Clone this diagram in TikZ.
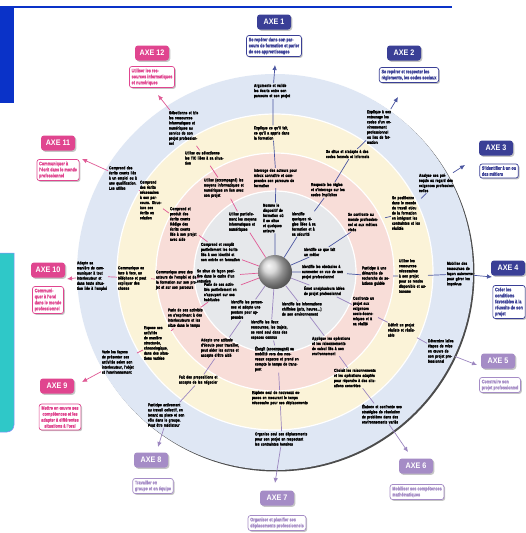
\documentclass[tikz,border=0pt]{standalone}
\usepackage{fontspec}
\setmainfont{Liberation Sans}
\newfontfamily\condfont{Liberation Sans}[FakeStretch=0.76, BoldFeatures={FakeBold=1.2}]
\newfontfamily\axefont{Liberation Sans}[FakeStretch=0.9]
\usetikzlibrary{shadows,arrows.meta}

\definecolor{axeblue}{HTML}{3A3F96}
\definecolor{axepurple}{HTML}{A58CC6}
\definecolor{axepink}{HTML}{E0458F}
\definecolor{lineblue}{HTML}{4A55A0}
\definecolor{linepurple}{HTML}{9C86C0}
\definecolor{linepink}{HTML}{E05A95}
\definecolor{ringblue}{HTML}{DFE7F4}
\definecolor{ringyellow}{HTML}{FBF3D8}
\definecolor{ringpink}{HTML}{F8DDD8}
\definecolor{ringgrey}{HTML}{E6E8EB}
\definecolor{topblue}{HTML}{0A32C8}
\definecolor{sidecyan}{HTML}{2FC8C8}

\tikzset{
  axe/.style={fill=#1, text=white, rounded corners=3pt, minimum width=34pt,
    minimum height=15pt, inner sep=1pt,
    font=\axefont\bfseries\fontsize{8}{9}\selectfont,
    drop shadow={shadow xshift=1.3pt, shadow yshift=-1.3pt, opacity=.45}},
  desc/.style={draw=#1, fill=white, text=#1, line width=.7pt, rounded corners=2.5pt,
    align=left, inner sep=2.2pt,
    font=\condfont\bfseries\fontsize{5}{6}\selectfont,
    drop shadow={shadow xshift=1.3pt, shadow yshift=-1.3pt, opacity=.45}},
  lbl/.style={text width=#1, align=left, inner sep=.8pt,
    font=\condfont\bfseries\fontsize{4.3}{5.1}\selectfont},
  axis/.style={draw=#1, line width=.7pt, -{Latex[length=5pt,width=4.5pt]}},
}

\begin{document}
\begin{tikzpicture}[x=1pt,y=-1pt]
\useasboundingbox (0,0) rectangle (525,533);
\fill[white] (0,0) rectangle (525,533);

% page decoration
\draw[topblue, line width=1.2pt] (0,7) -- (452,7);
\fill[topblue] (0,7) rectangle (14,103);
\filldraw[fill=sidecyan, draw=blue!45, line width=.5pt]
  (-10,253) -- (14,253) -- (14,425) arc[start angle=0, end angle=-90, radius=7pt] -- (-10,432) -- cycle;

% rings
\fill[black!70] (276.5,273.5) circle (198pt);
\fill[ringblue] (275,272) circle (198pt);
\foreach \r/\c in {158/ringyellow, 119/ringpink, 81/ringgrey}
  \filldraw[fill=\c, draw=white, line width=1.2pt] (275,272) circle (\r pt);
\node[circle, minimum size=34pt, inner sep=0pt, shading=ball, ball color=gray!40] (ball) at (275,272) {};

% axes labels
\node[axe=axeblue] (x1) at (274,22) {AXE 1};
\node[desc=axeblue] (d1) at (274,46) {Se repérer dans son par-\\cours de formation et parler\\de ses apprentissages};
\node[axe=axeblue] (x2) at (404,53) {AXE 2};
\node[desc=axeblue] (d2) at (409,75) {Se repérer et respecter les\\règlements, les codes sociaux};
\node[axe=axeblue] (x3) at (496,148) {AXE 3};
\node[desc=axeblue] (d3) at (499,171) {S’identifier à un ou\\des métiers};
\node[axe=axeblue] (x4) at (508,268) {AXE 4};
\node[desc=axeblue] (d4) at (509,302) {Créer les\\conditions\\favorables à la\\réussite de son\\projet};
\node[axe=axepurple] (x5) at (498,361) {AXE 5};
\node[desc=axepurple] (d5) at (500,385) {Construire son\\projet professionnel};
\node[axe=axepurple] (x6) at (416,466) {AXE 6};
\node[desc=axepurple] (d6) at (417,492) {Mobiliser ses compétences\\mathématiques};
\node[axe=axepurple] (x7) at (277,498) {AXE 7};
\node[desc=axepurple] (d7) at (277,523) {Organiser et planifier ses\\déplacements professionnels};
\node[axe=axepurple] (x8) at (151,460) {AXE 8};
\node[desc=axepurple] (d8) at (153,486) {Travailler en\\groupe et en équipe};
\node[axe=axepink] (x9) at (57,386) {AXE 9};
\node[desc=axepink, align=center] (d9) at (60,417) {Mettre en œuvre ses\\compétences et les\\adapter à différentes\\situations à l’oral};
\node[axe=axepink] (x10) at (48,270) {AXE 10};
\node[desc=axepink] (d10) at (48,300) {Communi-\\quer à l’oral\\dans le monde\\professionnel};
\node[axe=axepink] (x11) at (58,143) {AXE 11};
\node[desc=axepink] (d11) at (58,170) {Communiquer à\\l’écrit dans le monde\\professionnel};
\node[axe=axepink] (x12) at (152,53) {AXE 12};
\node[desc=axepink] (d12) at (152,77) {Utiliser les res-\\sources informatiques\\et numériques};

% axe 1
\node[lbl=24pt] (a1g) at (275,218) {Nomme le dispositif de formation où il se situe et quelques acteurs};
\node[lbl=44pt] (a1p) at (276,178) {Interroge des acteurs pour mieux connaître et comprendre son parcours de formation};
\node[lbl=38pt] (a1y) at (273,133) {Explique ce qu’il fait, ce qu’il a appris dans la formation};
\node[lbl=38pt] (a1b) at (273,91) {Argumente et valide les écarts entre son parcours et son projet};
\coordinate (t1) at (275,65);
\draw[axis=lineblue] (ball) -- (a1g) -- (a1p) -- (a1y) -- (a1b) -- (t1);

% axe 2
\node[lbl=26pt] (a2g) at (305,224) {Identifie quelques règles liées à sa formation et à sa sécurité};
\node[lbl=38pt] (a2p) at (330,190) {Respecte les règles et s’interroge sur les codes implicites};
\node[lbl=52pt] (a2y) at (352,154) {Se situe et s’adapte à des codes formels et informels};
\node[lbl=26pt] (a2b) at (380,127) {Explique à son entourage les codes d’un environnement professionnel ou lieu de formation};
\coordinate (t2) at (398,97);
\draw[axis=lineblue] (ball) -- (a2g) -- (a2p) -- (a2y) -- (a2b) -- (t2);

% axe 3
\node[lbl=34pt] (a3g) at (321,252) {Identifie ce que fait un métier};
\node[lbl=36pt] (a3p) at (366,222) {Se confronte au monde professionnel et aux métiers visés};
\node[lbl=28pt] (a3y) at (406,213) {Se positionne dans le monde du travail et/ou de la formation en intégrant les contraintes et les réalités};
\node[lbl=36pt] (a3b) at (437,183) {Analyse ses pré-requis au regard des exigences professionnelles};
\coordinate (t3) at (465,165);
\draw[axis=lineblue] (ball) -- (a3g) -- (a3p) -- (a3y) -- (a3b) -- (t3);

% axe 4
\node[lbl=44pt] (a4g) at (324,272) {Identifie les obstacles à surmonter en vue de son projet professionnel};
\node[lbl=30pt] (a4p) at (377,276) {Participe à une démarche de recherche de solutions guidée};
\node[lbl=28pt] (a4y) at (413,276) {Utilise les ressources nécessaires à son projet pour se rendre disponible et autonome};
\node[lbl=26pt] (a4b) at (460,274) {Mobilise des ressources de façon autonome pour gérer les imprévus};
\coordinate (t4) at (492,277);
\draw[axis=lineblue] (ball) -- (a4g) -- (a4p) -- (a4y) -- (a4b) -- (t4);

% axe 5
\node[lbl=42pt] (a5g) at (325,291) {Émet une/plusieurs idées de projet professionnel};
\node[lbl=24pt] (a5p) at (365,311) {Confronte un projet aux exigences socio-écono\-miques et à sa réalité};
\node[lbl=30pt] (a5y) at (403,330) {Définit un projet réaliste et réalisable};
\node[lbl=26pt] (a5b) at (441,351) {Détermine la/les étapes de mise en œuvre de son projet professionnel};
\coordinate (t5) at (477,365);
\draw[axis=linepurple] (ball) -- (a5g) -- (a5p) -- (a5y) -- (a5b) -- (t5);

% axe 6
\node[lbl=44pt] (a6g) at (304,309) {Identifie les informations chiffrées (prix, heures…) de son environnement};
\node[lbl=40pt] (a6p) at (332,346) {Applique les opérations et les raisonnements de calcul liés à son environnement};
\node[lbl=42pt] (a6y) at (355,378) {Choisit les raisonnements et les opérations adaptés pour répondre à des situations concrètes};
\node[lbl=40pt] (a6b) at (382,414) {Élabore et confronte ses stratégies de résolution de problème dans des environnements variés};
\coordinate (t6) at (408,452);
\draw[axis=linepurple] (ball) -- (a6g) -- (a6p) -- (a6y) -- (a6b) -- (t6);

% axe 7
\node[lbl=40pt] (a7g) at (271,330) {Identifie les lieux ressources, les trajets, se rend seul dans des espaces connus};
\node[lbl=46pt] (a7p) at (278,359) {Élargit (accompagné) sa mobilité vers des nouveaux espaces et prend en compte le temps de transport};
\node[lbl=56pt] (a7y) at (280,398) {Explore seul de nouveaux espaces en mesurant le temps nécessaire pour ses déplacements};
\node[lbl=54pt] (a7b) at (282,439) {Organise seul ses déplacements pour son projet en respectant les contraintes horaires};
\coordinate (t7) at (275,483);
\draw[axis=linepurple] (ball) -- (a7g) -- (a7p) -- (a7y) -- (a7b) -- (t7);

% axe 8
\node[lbl=34pt] (a8g) at (248,310) {Identifie les personnes et adopte une posture pour apprendre};
\node[lbl=42pt] (a8p) at (222,348) {Adopte une attitude d’écoute pour travailler, peut aider les autres et accepte d’être aidé};
\node[lbl=42pt] (a8y) at (200,380) {Fait des propositions et accepte de les négocier};
\node[lbl=40pt] (a8b) at (168,415) {Participe activement au travail collectif, en tenant sa place et son rôle dans le groupe. Peut être médiateur};
\coordinate (t8) at (158,447);
\draw[axis=linepurple] (ball) -- (a8g) -- (a8p) -- (a8y) -- (a8b) -- (t8);

% axe 9
\node[lbl=36pt] (a9g) at (222,292) {Parle de ses activités partiellement en s’appuyant sur ses habitudes};
\node[lbl=36pt] (a9p) at (186,318) {Parle de ses activités en s’exprimant à des interlocuteurs et les situe dans le temps};
\node[lbl=26pt] (a9y) at (157,343) {Expose ses activités de manière structurée, chronologique, dans des situations variées};
\node[lbl=34pt] (a9b) at (119,362) {Varie les façons de présenter ses activités selon son interlocuteur, l’objet et l’environnement};
\coordinate (t9) at (82,382);
\draw[axis=linepink] (ball) -- (a9g) -- (a9p) -- (a9y) -- (a9b) -- (t9);

% axe 10
\node[lbl=42pt] (a10g) at (218,276) {Se situe de façon positive dans le cadre d’un entretien};
\node[lbl=42pt] (a10p) at (177,280) {Communique avec des acteurs de l’emploi et de la formation sur son projet et sur son parcours};
\node[lbl=32pt] (a10y) at (134,278) {Communique en face à face, au téléphone et peut expliquer des choses};
\node[lbl=30pt] (a10b) at (92,276) {Adapte sa manière de communiquer à tout interlocuteur et dans toute situation liée à l’emploi};
\coordinate (t10) at (67,279);
\draw[axis=linepink] (ball) -- (a10g) -- (a10p) -- (a10y) -- (a10b) -- (t10);

% axe 11
\node[lbl=40pt] (a11g) at (221,252) {Comprend et remplit partiellement les écrits liés à son identité et son entrée en formation};
\node[lbl=28pt] (a11p) at (184,224) {Comprend et produit des écrits courts\\Rédige des écrits courts liés à son projet avec aide};
\node[lbl=22pt] (a11y) at (151,200) {Comprend des écrits nécessaires à son parcours. Structure ses écrits en relation};
\node[lbl=30pt] (a11b) at (124,178) {Comprend des écrits courts liés à un emploi ou à une qualification. Les utilise};
\coordinate (t11) at (82,159);
\draw[axis=linepink] (ball) -- (a11g) -- (a11p) -- (a11y) -- (a11b) -- (t11);

% axe 12
\node[lbl=28pt] (a12g) at (243,222) {Utilise partiellement les moyens informatiques et numériques};
\node[lbl=42pt] (a12p) at (225,188) {Utilise (accompagné) les moyens informatiques et numériques en lien avec son projet};
\node[lbl=40pt] (a12y) at (205,158) {Utilise ou sélectionne les TIC liées à sa situation};
\node[lbl=30pt] (a12b) at (184,128) {Sélectionne et trie les ressources informatiques et numériques au service de son projet professionnel};
\coordinate (t12) at (158,95);
\draw[axis=linepink] (ball) -- (a12g) -- (a12p) -- (a12y) -- (a12b) -- (t12);
\end{tikzpicture}
\end{document}
